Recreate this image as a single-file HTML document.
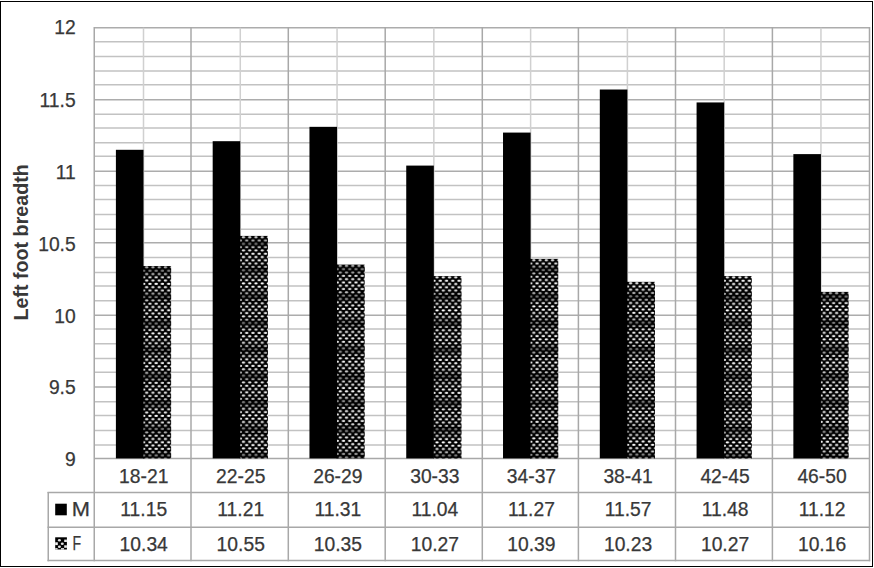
<!DOCTYPE html><html><head><meta charset="utf-8"><title>Left foot breadth</title><style>html,body{margin:0;padding:0;background:#fff;overflow:hidden;}svg{display:block;}text{font-family:"Liberation Sans",Arial,sans-serif;fill:#383838;stroke:#383838;stroke-width:0.25px;}</style></head><body>
<svg width="874" height="568" viewBox="0 0 874 568">
<defs>
<pattern id="p0" patternUnits="userSpaceOnUse" x="143.50" y="266.07" width="6.25" height="6.60"><rect width="6.25" height="6.60" fill="#000"/><ellipse cx="3.2" cy="1.3" rx="1.75" ry="1.0" fill="#fff"/><ellipse cx="0.2" cy="4.6" rx="1.75" ry="1.0" fill="#fff"/><ellipse cx="6.45" cy="4.6" rx="1.75" ry="1.0" fill="#fff"/></pattern>
<pattern id="p1" patternUnits="userSpaceOnUse" x="240.28" y="235.92" width="6.25" height="6.60"><rect width="6.25" height="6.60" fill="#000"/><ellipse cx="3.2" cy="1.3" rx="1.75" ry="1.0" fill="#fff"/><ellipse cx="0.2" cy="4.6" rx="1.75" ry="1.0" fill="#fff"/><ellipse cx="6.45" cy="4.6" rx="1.75" ry="1.0" fill="#fff"/></pattern>
<pattern id="p2" patternUnits="userSpaceOnUse" x="337.06" y="264.63" width="6.25" height="6.60"><rect width="6.25" height="6.60" fill="#000"/><ellipse cx="3.2" cy="1.3" rx="1.75" ry="1.0" fill="#fff"/><ellipse cx="0.2" cy="4.6" rx="1.75" ry="1.0" fill="#fff"/><ellipse cx="6.45" cy="4.6" rx="1.75" ry="1.0" fill="#fff"/></pattern>
<pattern id="p3" patternUnits="userSpaceOnUse" x="433.84" y="276.11" width="6.25" height="6.60"><rect width="6.25" height="6.60" fill="#000"/><ellipse cx="3.2" cy="1.3" rx="1.75" ry="1.0" fill="#fff"/><ellipse cx="0.2" cy="4.6" rx="1.75" ry="1.0" fill="#fff"/><ellipse cx="6.45" cy="4.6" rx="1.75" ry="1.0" fill="#fff"/></pattern>
<pattern id="p4" patternUnits="userSpaceOnUse" x="530.62" y="258.89" width="6.25" height="6.60"><rect width="6.25" height="6.60" fill="#000"/><ellipse cx="3.2" cy="1.3" rx="1.75" ry="1.0" fill="#fff"/><ellipse cx="0.2" cy="4.6" rx="1.75" ry="1.0" fill="#fff"/><ellipse cx="6.45" cy="4.6" rx="1.75" ry="1.0" fill="#fff"/></pattern>
<pattern id="p5" patternUnits="userSpaceOnUse" x="627.40" y="281.85" width="6.25" height="6.60"><rect width="6.25" height="6.60" fill="#000"/><ellipse cx="3.2" cy="1.3" rx="1.75" ry="1.0" fill="#fff"/><ellipse cx="0.2" cy="4.6" rx="1.75" ry="1.0" fill="#fff"/><ellipse cx="6.45" cy="4.6" rx="1.75" ry="1.0" fill="#fff"/></pattern>
<pattern id="p6" patternUnits="userSpaceOnUse" x="724.18" y="276.11" width="6.25" height="6.60"><rect width="6.25" height="6.60" fill="#000"/><ellipse cx="3.2" cy="1.3" rx="1.75" ry="1.0" fill="#fff"/><ellipse cx="0.2" cy="4.6" rx="1.75" ry="1.0" fill="#fff"/><ellipse cx="6.45" cy="4.6" rx="1.75" ry="1.0" fill="#fff"/></pattern>
<pattern id="p7" patternUnits="userSpaceOnUse" x="820.96" y="291.90" width="6.25" height="6.60"><rect width="6.25" height="6.60" fill="#000"/><ellipse cx="3.2" cy="1.3" rx="1.75" ry="1.0" fill="#fff"/><ellipse cx="0.2" cy="4.6" rx="1.75" ry="1.0" fill="#fff"/><ellipse cx="6.45" cy="4.6" rx="1.75" ry="1.0" fill="#fff"/></pattern>
<linearGradient id="bg" x1="0" y1="0" x2="0" y2="1"><stop offset="0" stop-color="#000" stop-opacity="0"/><stop offset="0.3" stop-color="#000" stop-opacity="0.15"/><stop offset="0.5" stop-color="#000" stop-opacity="0.55"/><stop offset="0.7" stop-color="#000" stop-opacity="0.15"/><stop offset="1" stop-color="#000" stop-opacity="0"/></linearGradient>
<pattern id="band" patternUnits="userSpaceOnUse" x="0" y="17.40" width="20" height="26.60"><rect width="20" height="26.60" fill="url(#bg)"/></pattern>
</defs>
<rect width="874" height="568" fill="#fff"/>
<line x1="94.25" x2="869.50" y1="27.80" y2="27.80" stroke="#acacac" stroke-width="1.50"/>
<line x1="94.25" x2="869.50" y1="41.75" y2="41.75" stroke="#c2c2c2" stroke-width="1.50"/>
<line x1="94.25" x2="869.50" y1="56.40" y2="56.40" stroke="#c2c2c2" stroke-width="1.50"/>
<line x1="94.25" x2="869.50" y1="71.00" y2="71.00" stroke="#c2c2c2" stroke-width="1.50"/>
<line x1="94.25" x2="869.50" y1="84.80" y2="84.80" stroke="#c2c2c2" stroke-width="1.50"/>
<line x1="94.25" x2="869.50" y1="99.80" y2="99.80" stroke="#acacac" stroke-width="1.50"/>
<line x1="94.25" x2="869.50" y1="114.30" y2="114.30" stroke="#c2c2c2" stroke-width="1.50"/>
<line x1="94.25" x2="869.50" y1="128.10" y2="128.10" stroke="#c2c2c2" stroke-width="1.50"/>
<line x1="94.25" x2="869.50" y1="142.65" y2="142.65" stroke="#c2c2c2" stroke-width="1.50"/>
<line x1="94.25" x2="869.50" y1="156.30" y2="156.30" stroke="#c2c2c2" stroke-width="1.50"/>
<line x1="94.25" x2="869.50" y1="171.30" y2="171.30" stroke="#acacac" stroke-width="1.50"/>
<line x1="94.25" x2="869.50" y1="185.50" y2="185.50" stroke="#c2c2c2" stroke-width="1.50"/>
<line x1="94.25" x2="869.50" y1="199.60" y2="199.60" stroke="#c2c2c2" stroke-width="1.50"/>
<line x1="94.25" x2="869.50" y1="214.40" y2="214.40" stroke="#c2c2c2" stroke-width="1.50"/>
<line x1="94.25" x2="869.50" y1="229.20" y2="229.20" stroke="#c2c2c2" stroke-width="1.50"/>
<line x1="94.25" x2="869.50" y1="242.70" y2="242.70" stroke="#acacac" stroke-width="1.50"/>
<line x1="94.25" x2="869.50" y1="257.50" y2="257.50" stroke="#c2c2c2" stroke-width="1.50"/>
<line x1="94.25" x2="869.50" y1="272.50" y2="272.50" stroke="#c2c2c2" stroke-width="1.50"/>
<line x1="94.25" x2="869.50" y1="286.00" y2="286.00" stroke="#c2c2c2" stroke-width="1.50"/>
<line x1="94.25" x2="869.50" y1="300.80" y2="300.80" stroke="#c2c2c2" stroke-width="1.50"/>
<line x1="94.25" x2="869.50" y1="315.30" y2="315.30" stroke="#acacac" stroke-width="1.50"/>
<line x1="94.25" x2="869.50" y1="329.00" y2="329.00" stroke="#c2c2c2" stroke-width="1.50"/>
<line x1="94.25" x2="869.50" y1="343.80" y2="343.80" stroke="#c2c2c2" stroke-width="1.50"/>
<line x1="94.25" x2="869.50" y1="358.60" y2="358.60" stroke="#c2c2c2" stroke-width="1.50"/>
<line x1="94.25" x2="869.50" y1="372.25" y2="372.25" stroke="#c2c2c2" stroke-width="1.50"/>
<line x1="94.25" x2="869.50" y1="387.00" y2="387.00" stroke="#acacac" stroke-width="1.50"/>
<line x1="94.25" x2="869.50" y1="401.80" y2="401.80" stroke="#c2c2c2" stroke-width="1.50"/>
<line x1="94.25" x2="869.50" y1="415.50" y2="415.50" stroke="#c2c2c2" stroke-width="1.50"/>
<line x1="94.25" x2="869.50" y1="430.50" y2="430.50" stroke="#c2c2c2" stroke-width="1.50"/>
<line x1="94.25" x2="869.50" y1="445.10" y2="445.10" stroke="#c2c2c2" stroke-width="1.50"/>
<line x1="94.25" x2="94.25" y1="27.10" y2="561.30" stroke="#a8a8a8" stroke-width="1.50"/>
<line x1="191.00" x2="191.00" y1="27.10" y2="561.30" stroke="#a8a8a8" stroke-width="1.50"/>
<line x1="288.30" x2="288.30" y1="27.10" y2="561.30" stroke="#a8a8a8" stroke-width="1.50"/>
<line x1="385.20" x2="385.20" y1="27.10" y2="561.30" stroke="#a8a8a8" stroke-width="1.50"/>
<line x1="482.30" x2="482.30" y1="27.10" y2="561.30" stroke="#a8a8a8" stroke-width="1.50"/>
<line x1="578.40" x2="578.40" y1="27.10" y2="561.30" stroke="#a8a8a8" stroke-width="1.50"/>
<line x1="675.50" x2="675.50" y1="27.10" y2="561.30" stroke="#a8a8a8" stroke-width="1.50"/>
<line x1="772.40" x2="772.40" y1="27.10" y2="561.30" stroke="#a8a8a8" stroke-width="1.50"/>
<line x1="869.50" x2="869.50" y1="27.10" y2="561.30" stroke="#a8a8a8" stroke-width="1.50"/>
<line x1="143.50" x2="143.50" y1="27.80" y2="458.40" stroke="#d0d0d0" stroke-width="1.50"/>
<line x1="240.28" x2="240.28" y1="27.80" y2="458.40" stroke="#d0d0d0" stroke-width="1.50"/>
<line x1="337.06" x2="337.06" y1="27.80" y2="458.40" stroke="#d0d0d0" stroke-width="1.50"/>
<line x1="433.84" x2="433.84" y1="27.80" y2="458.40" stroke="#d0d0d0" stroke-width="1.50"/>
<line x1="530.62" x2="530.62" y1="27.80" y2="458.40" stroke="#d0d0d0" stroke-width="1.50"/>
<line x1="627.40" x2="627.40" y1="27.80" y2="458.40" stroke="#d0d0d0" stroke-width="1.50"/>
<line x1="724.18" x2="724.18" y1="27.80" y2="458.40" stroke="#d0d0d0" stroke-width="1.50"/>
<line x1="820.96" x2="820.96" y1="27.80" y2="458.40" stroke="#d0d0d0" stroke-width="1.50"/>
<line x1="94.25" x2="869.50" y1="458.40" y2="458.40" stroke="#a8a8a8" stroke-width="1.50"/>
<line x1="47.50" x2="870.20" y1="492.60" y2="492.60" stroke="#a8a8a8" stroke-width="1.50"/>
<line x1="47.50" x2="870.20" y1="527.20" y2="527.20" stroke="#a8a8a8" stroke-width="1.50"/>
<line x1="47.50" x2="870.20" y1="560.60" y2="560.60" stroke="#a8a8a8" stroke-width="1.50"/>
<line x1="48.25" x2="48.25" y1="491.9" y2="561.3" stroke="#a8a8a8" stroke-width="1.50"/>
<rect x="115.90" y="149.80" width="27.60" height="308.60" fill="#000"/>
<rect x="142.90" y="266.07" width="1.2" height="192.33" fill="#000"/>
<rect x="143.50" y="266.07" width="27.60" height="192.33" fill="url(#p0)"/>
<rect x="143.50" y="266.07" width="27.60" height="192.33" fill="url(#band)"/>
<rect x="212.68" y="141.19" width="27.60" height="317.21" fill="#000"/>
<rect x="239.68" y="235.92" width="1.2" height="222.48" fill="#000"/>
<rect x="240.28" y="235.92" width="27.60" height="222.48" fill="url(#p1)"/>
<rect x="240.28" y="235.92" width="27.60" height="222.48" fill="url(#band)"/>
<rect x="309.46" y="126.84" width="27.60" height="331.56" fill="#000"/>
<rect x="336.46" y="264.63" width="1.2" height="193.77" fill="#000"/>
<rect x="337.06" y="264.63" width="27.60" height="193.77" fill="url(#p2)"/>
<rect x="337.06" y="264.63" width="27.60" height="193.77" fill="url(#band)"/>
<rect x="406.24" y="165.59" width="27.60" height="292.81" fill="#000"/>
<rect x="433.24" y="276.11" width="1.2" height="182.29" fill="#000"/>
<rect x="433.84" y="276.11" width="27.60" height="182.29" fill="url(#p3)"/>
<rect x="433.84" y="276.11" width="27.60" height="182.29" fill="url(#band)"/>
<rect x="503.02" y="132.58" width="27.60" height="325.82" fill="#000"/>
<rect x="530.02" y="258.89" width="1.2" height="199.51" fill="#000"/>
<rect x="530.62" y="258.89" width="27.60" height="199.51" fill="url(#p4)"/>
<rect x="530.62" y="258.89" width="27.60" height="199.51" fill="url(#band)"/>
<rect x="599.80" y="89.52" width="27.60" height="368.88" fill="#000"/>
<rect x="626.80" y="281.85" width="1.2" height="176.55" fill="#000"/>
<rect x="627.40" y="281.85" width="27.60" height="176.55" fill="url(#p5)"/>
<rect x="627.40" y="281.85" width="27.60" height="176.55" fill="url(#band)"/>
<rect x="696.58" y="102.44" width="27.60" height="355.96" fill="#000"/>
<rect x="723.58" y="276.11" width="1.2" height="182.29" fill="#000"/>
<rect x="724.18" y="276.11" width="27.60" height="182.29" fill="url(#p6)"/>
<rect x="724.18" y="276.11" width="27.60" height="182.29" fill="url(#band)"/>
<rect x="793.36" y="154.11" width="27.60" height="304.29" fill="#000"/>
<rect x="820.36" y="291.90" width="1.2" height="166.50" fill="#000"/>
<rect x="820.96" y="291.90" width="27.60" height="166.50" fill="url(#p7)"/>
<rect x="820.96" y="291.90" width="27.60" height="166.50" fill="url(#band)"/>
<text x="75.7" y="33.50" font-size="19.3" text-anchor="end">12</text>
<text x="75.7" y="107.27" font-size="19.3" text-anchor="end">11.5</text>
<text x="75.7" y="179.03" font-size="19.3" text-anchor="end">11</text>
<text x="75.7" y="250.80" font-size="19.3" text-anchor="end">10.5</text>
<text x="75.7" y="322.57" font-size="19.3" text-anchor="end">10</text>
<text x="75.7" y="394.33" font-size="19.3" text-anchor="end">9.5</text>
<text x="75.7" y="466.10" font-size="19.3" text-anchor="end">9</text>
<text transform="translate(27.5 242.4) rotate(-90)" font-size="19.7" font-weight="bold" style="stroke-width:0" text-anchor="middle">Left foot breadth</text>
<text x="143.72" y="483.20" font-size="19.3" text-anchor="middle">18-21</text>
<text x="143.72" y="516.20" font-size="19.3" text-anchor="middle">11.15</text>
<text x="143.72" y="550.70" font-size="19.3" text-anchor="middle">10.34</text>
<text x="240.75" y="483.20" font-size="19.3" text-anchor="middle">22-25</text>
<text x="240.75" y="516.20" font-size="19.3" text-anchor="middle">11.21</text>
<text x="240.75" y="550.70" font-size="19.3" text-anchor="middle">10.55</text>
<text x="337.85" y="483.20" font-size="19.3" text-anchor="middle">26-29</text>
<text x="337.85" y="516.20" font-size="19.3" text-anchor="middle">11.31</text>
<text x="337.85" y="550.70" font-size="19.3" text-anchor="middle">10.35</text>
<text x="434.85" y="483.20" font-size="19.3" text-anchor="middle">30-33</text>
<text x="434.85" y="516.20" font-size="19.3" text-anchor="middle">11.04</text>
<text x="434.85" y="550.70" font-size="19.3" text-anchor="middle">10.27</text>
<text x="531.45" y="483.20" font-size="19.3" text-anchor="middle">34-37</text>
<text x="531.45" y="516.20" font-size="19.3" text-anchor="middle">11.27</text>
<text x="531.45" y="550.70" font-size="19.3" text-anchor="middle">10.39</text>
<text x="628.05" y="483.20" font-size="19.3" text-anchor="middle">38-41</text>
<text x="628.05" y="516.20" font-size="19.3" text-anchor="middle">11.57</text>
<text x="628.05" y="550.70" font-size="19.3" text-anchor="middle">10.23</text>
<text x="725.05" y="483.20" font-size="19.3" text-anchor="middle">42-45</text>
<text x="725.05" y="516.20" font-size="19.3" text-anchor="middle">11.48</text>
<text x="725.05" y="550.70" font-size="19.3" text-anchor="middle">10.27</text>
<text x="822.05" y="483.20" font-size="19.3" text-anchor="middle">46-50</text>
<text x="822.05" y="516.20" font-size="19.3" text-anchor="middle">11.12</text>
<text x="822.05" y="550.70" font-size="19.3" text-anchor="middle">10.16</text>
<rect x="55.2" y="503.7" width="11.6" height="11.6" fill="#000"/>
<rect x="55.2" y="537.3" width="11.7" height="12.2" fill="#000"/>
<rect x="64.2" y="539.6" width="2.7" height="2.4" fill="#e8e8e8"/>
<rect x="55.2" y="542.3" width="2.6" height="2.8" fill="#f4f4f4"/>
<rect x="64.2" y="545.3" width="2.7" height="2.5" fill="#e8e8e8"/>
<rect x="55.2" y="548.2" width="2.4" height="1.3" fill="#fff"/>
<rect x="61.0" y="548.2" width="3.0" height="1.3" fill="#fff"/>
<ellipse cx="59.4" cy="540.3" rx="1.5" ry="1.2" fill="#e0e0e0"/>
<ellipse cx="62.3" cy="543.7" rx="1.5" ry="1.2" fill="#e0e0e0"/>
<ellipse cx="59.4" cy="546.7" rx="1.5" ry="1.2" fill="#e0e0e0"/>
<text x="71.8" y="516" font-size="19.3" textLength="18.2" lengthAdjust="spacingAndGlyphs">M</text>
<text x="72.6" y="550.4" font-size="19.3" textLength="8.6" lengthAdjust="spacingAndGlyphs">F</text>
<rect x="0.5" y="1.5" width="872" height="565" fill="none" stroke="#000" stroke-width="1"/>
</svg></body></html>
